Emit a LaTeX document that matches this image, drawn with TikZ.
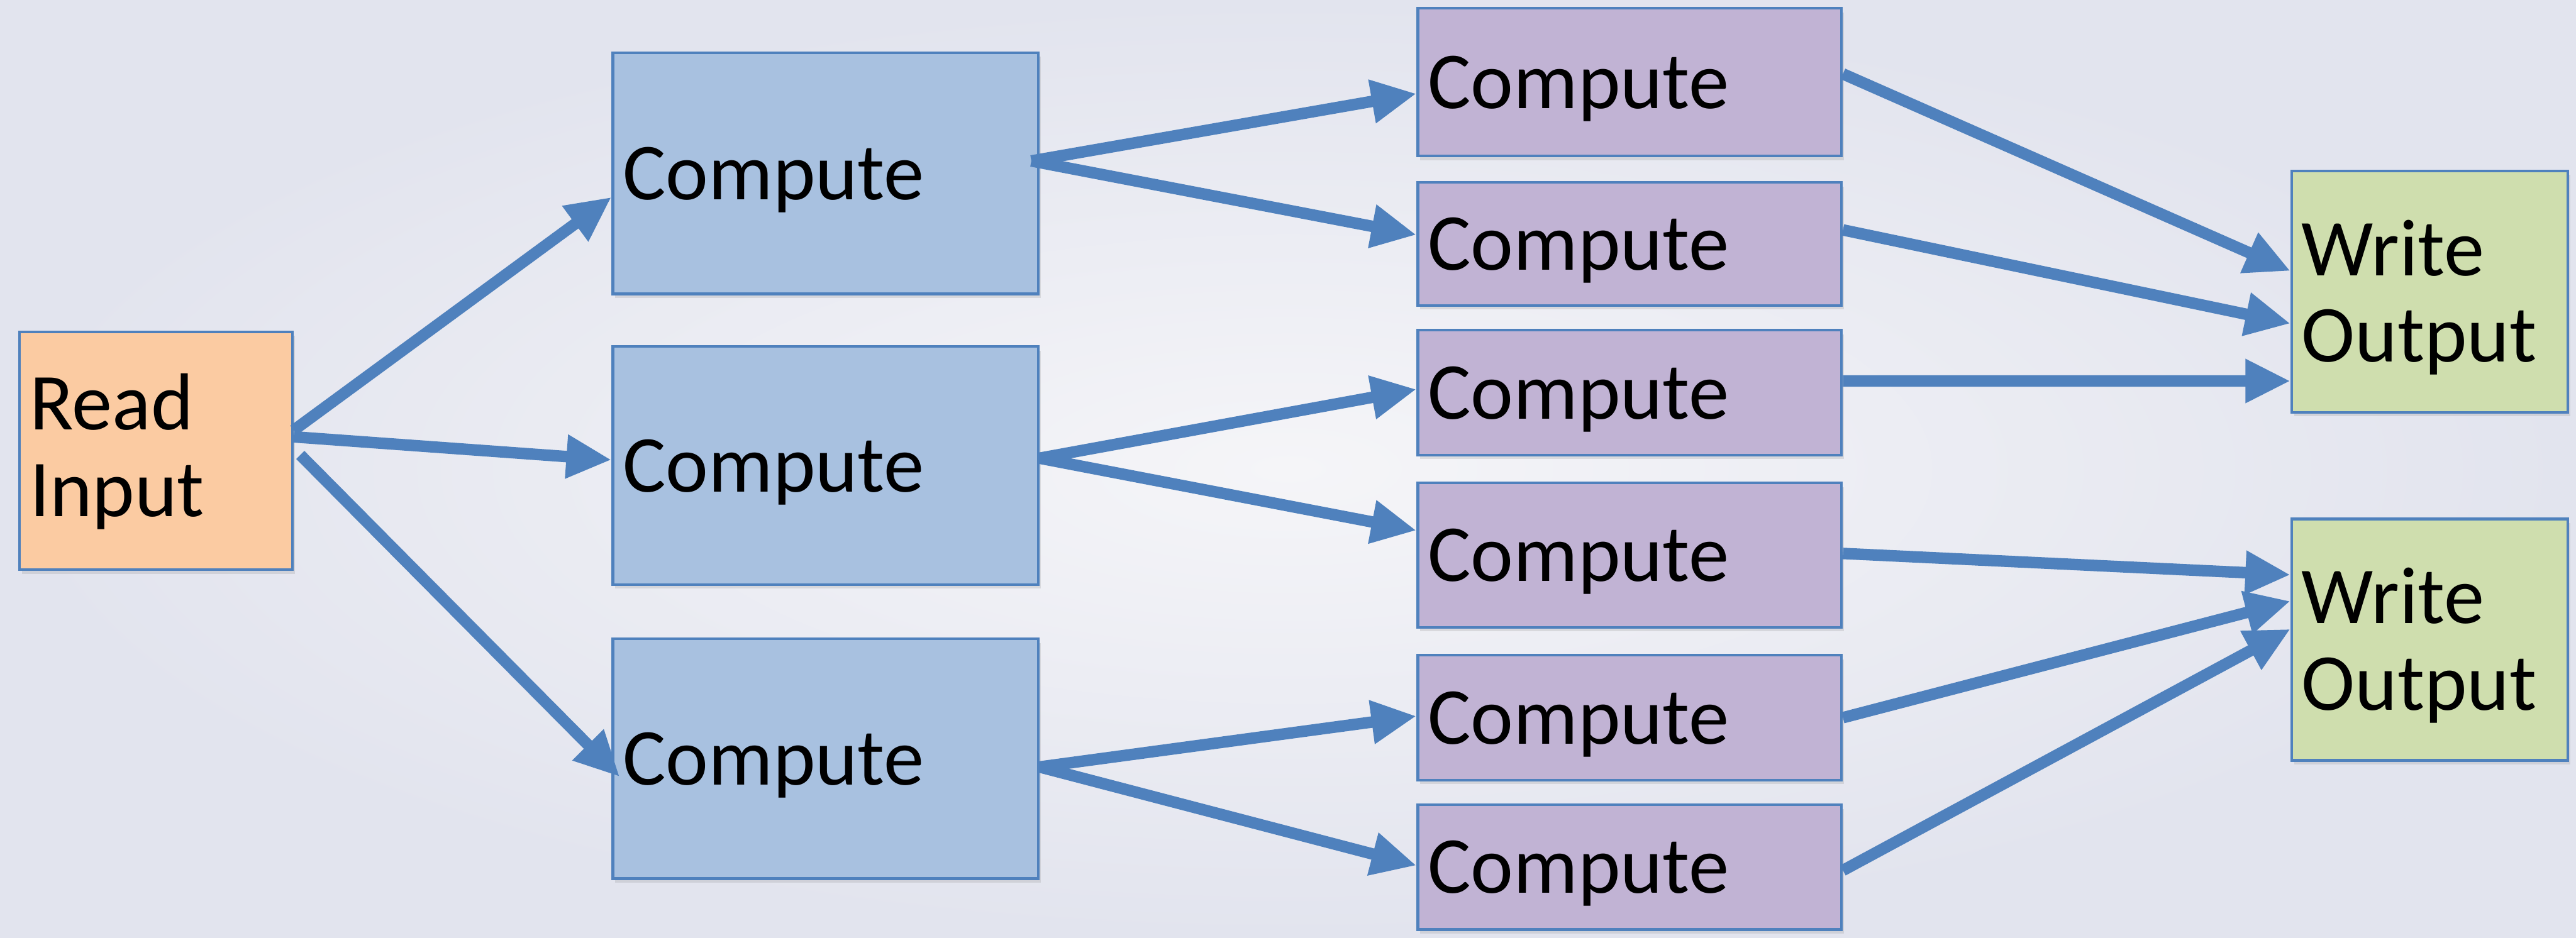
\documentclass[tikz,border=0pt]{standalone}
\usepackage{fontspec}
\setmainfont{Carlito}
\usetikzlibrary{arrows.meta,calc,shadows}
\definecolor{bgout}{HTML}{E2E4EE}
\definecolor{bgin}{HTML}{F5F5F8}
\definecolor{edge}{HTML}{4F81BD}
\definecolor{linec}{HTML}{4F81BD}
\definecolor{orangef}{HTML}{FBCBA2}
\definecolor{bluef}{HTML}{A8C1E0}
\definecolor{purplef}{HTML}{C1B3D4}
\definecolor{greenf}{HTML}{CFDEAE}
\newcommand{\topstrut}[1]{\rule{0pt}{#1}}
\begin{document}
\begin{tikzpicture}[x=0.02cm,y=-0.02cm,
  basebox/.style={draw=edge, line width=0.9pt, rectangle, align=left,
    inner xsep=0.12cm, inner ysep=0pt,
    font=\fontsize{28pt}{30pt}\selectfont,
    drop shadow={opacity=0.2, shadow xshift=0.03cm, shadow yshift=-0.05cm}},
  readbox/.style={basebox, fill=orangef, text width=3.08cm, minimum height=2.9cm},
  compbox/.style={basebox, text depth=0pt, fill=bluef, text width=4.94cm, minimum height=#1},
  procbox/.style={basebox, text depth=0pt, fill=purplef, text width=4.92cm, minimum height=#1},
  outbox/.style={basebox, fill=greenf, text width=3.12cm, minimum height=2.94cm},
  conn/.style={draw=linec, line width=0.14cm, -{Triangle[length=0.55cm,width=0.5cm]}}
]
\shade[inner color=bgin, outer color=bgout] (0,0) rectangle (1568,571);
\useasboundingbox (0,0) rectangle (1568,571);

\node[readbox] (ri) at (95,274.5) {\topstrut{0.7cm}Read\\Input};

\node[compbox=2.94cm] (c1) at (502.5,105.5) {Compute};
\node[compbox=2.9cm]  (c2) at (502.5,283.5) {Compute};
\node[compbox=2.92cm] (c3) at (502.5,462) {Compute};

\node[procbox=1.8cm]  (p1) at (992,50) {Compute};
\node[procbox=1.5cm]  (p2) at (992,148.5) {Compute};
\node[procbox=1.52cm] (p3) at (992,239) {Compute};
\node[procbox=1.76cm] (p4) at (992,338) {Compute};
\node[procbox=1.52cm] (p5) at (992,437) {Compute};
\node[procbox=1.52cm] (p6) at (992,528) {Compute};

\node[outbox] (w1) at (1479,177.5) {\topstrut{0.82cm}Write\\Output};
\node[outbox] (w2) at (1479,389.5) {\topstrut{0.82cm}Write\\Output};

\draw[conn] ($(ri.east)+(0,-12.5)$) -- ($(c1.west)+(0,14.5)$);
\draw[conn] ($(ri.east)+(0,-8.5)$) -- ($(c2.west)+(0,-3.5)$);
\draw[conn] ($(ri.east)+(4,2.5)$) -- ($(c3.west)+(5,11)$);

\draw[conn] ($(c1.east)+(-5,-7.5)$) -- ($(p1.west)+(0,7)$);
\draw[conn] ($(c1.east)+(-5,-7.5)$) -- ($(p2.west)+(0,-5.5)$);
\draw[conn] ($(c2.east)+(0,-4.5)$) -- ($(p3.west)+(0,-2)$);
\draw[conn] ($(c2.east)+(0,-4.5)$) -- ($(p4.west)+(0,-15)$);
\draw[conn] ($(c3.east)+(0,5)$) -- ($(p5.west)+(0,-1)$);
\draw[conn] ($(c3.east)+(0,5)$) -- ($(p6.west)+(0,-1)$);

\draw[conn] ($(p1.east)+(0,-5)$) -- ($(w1.west)+(0,-12.5)$);
\draw[conn] ($(p2.east)+(0,-8.5)$) -- ($(w1.west)+(0,19.5)$);
\draw[conn] ($(p3.east)+(0,-7)$) -- ($(w1.west)+(0,54.5)$);
\draw[conn] ($(p4.east)+(0,-1)$) -- ($(w2.west)+(0,-39.5)$);
\draw[conn] ($(p5.east)+(0,0)$) -- ($(w2.west)+(0,-23.5)$);
\draw[conn] ($(p6.east)+(0,2)$) -- ($(w2.west)+(0,-6.5)$);
\end{tikzpicture}
\end{document}
